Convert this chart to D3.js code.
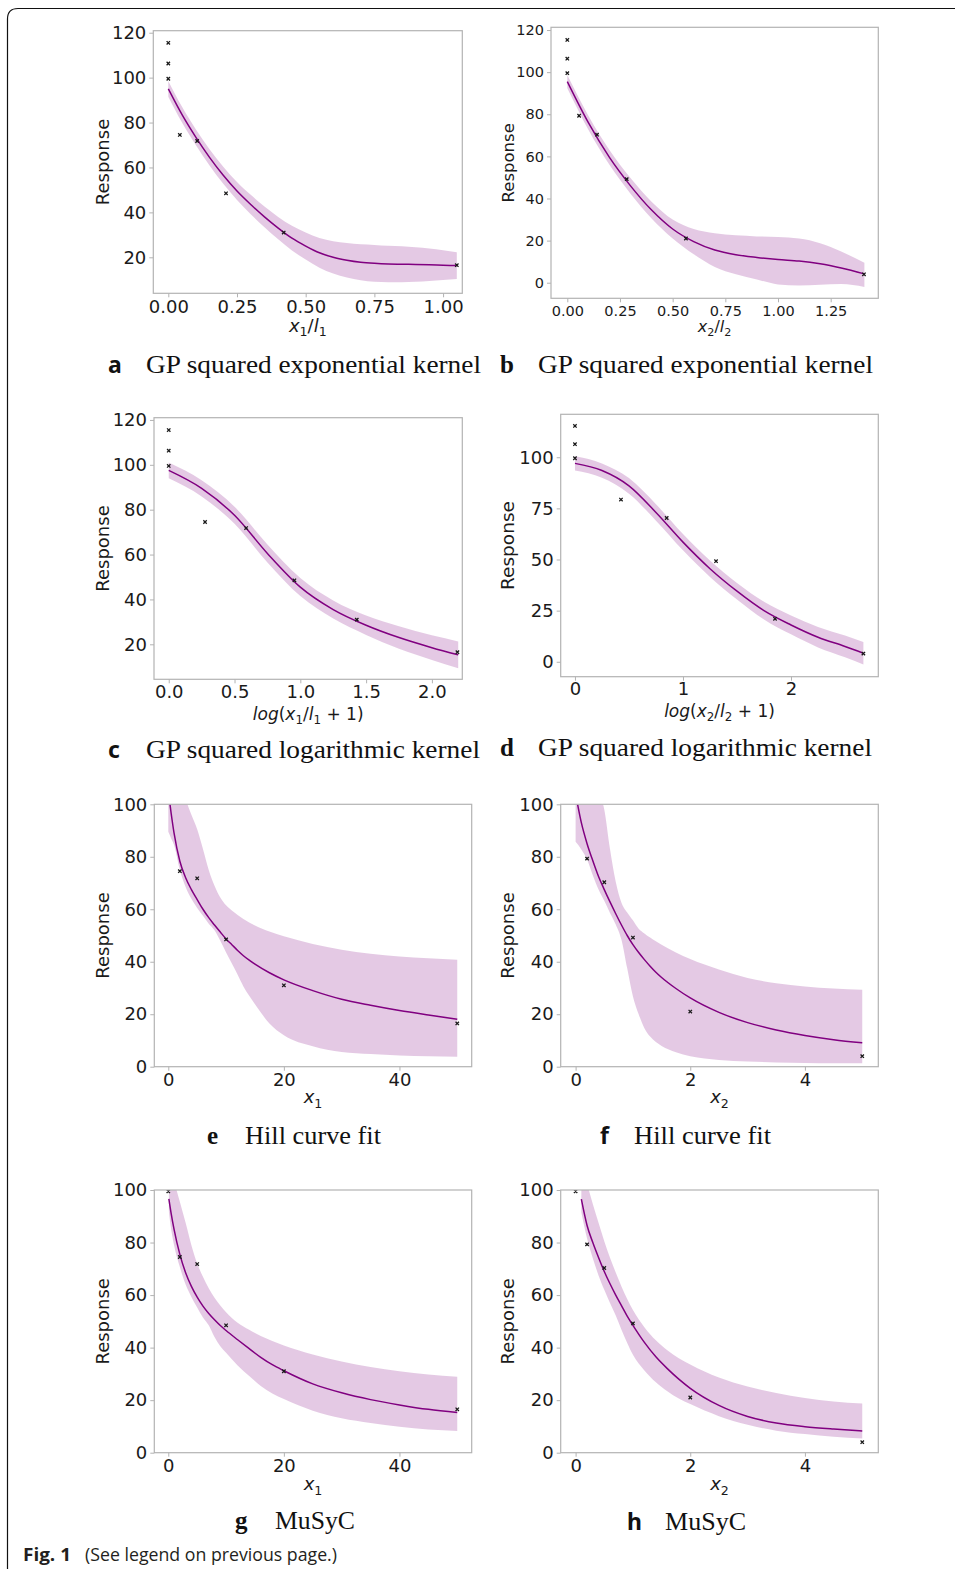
<!DOCTYPE html>
<html>
<head>
<meta charset="utf-8">
<script src="https://cdn.jsdelivr.net/npm/d3@7"></script>
<style>
  body { margin: 0; background: #fff; }
  svg { display: block; }
</style>
</head>
<body>
<svg id="fig" width="955" height="1569"></svg>
<script>
// ---------------- observations ----------------
// drug 1 doses and their transformed coordinates, with measured responses
const x1Ratio    = [0, 0, 0, 0.042, 0.105, 0.21, 0.42, 1.05];
const x1LogRatio = [0, 0, 0, 0.276, 0.588, 0.955, 1.429, 2.194];
const x1Dose     = [0, 0, 0, 2, 5, 10, 20, 50];
const y1Obs      = [115.5, 106.3, 99.5, 74.5, 71.8, 48.5, 31, 16.5];
// drug 2 doses and their transformed coordinates, with measured responses
const x2Ratio    = [0, 0, 0, 0.056, 0.141, 0.282, 0.563, 1.408];
const x2LogRatio = [0, 0, 0, 0.426, 0.849, 1.306, 1.852, 2.67];
const x2Dose     = [0, 0, 0, 0.2, 0.5, 1, 2, 5];
const y2Obs      = [115.3, 106.4, 99.5, 79.3, 70.3, 49.2, 21, 4];

// ---------------- fitted curves (mean and band) ----------------
// a: GP squared exponential kernel, drug 1
const aGridX = [0, 0.05, 0.1, 0.15, 0.2, 0.25, 0.3, 0.35, 0.4, 0.45, 0.5, 0.55, 0.6, 0.65, 0.7, 0.75, 0.8, 0.85, 0.9, 0.95, 1.0, 1.05];
const aMean  = [95, 83.5, 73.5, 64.5, 56.5, 49.5, 43.5, 38, 33, 28.5, 25, 22, 20, 18.7, 17.8, 17.3, 17, 16.9, 16.8, 16.7, 16.5, 16.3];
const aUpper = [98.5, 87, 77, 68.1, 60.3, 53.5, 47.8, 42.6, 38, 34, 31, 28.6, 27.2, 26.4, 25.8, 25.5, 25.1, 24.9, 24.5, 23.9, 23.1, 22.3];
const aLower = [91.5, 80, 70, 60.9, 52.7, 45.5, 39.2, 33.4, 28, 23, 19, 15.4, 12.8, 11, 9.8, 9.1, 8.9, 8.9, 9.1, 9.5, 9.9, 10.3];

// b: GP squared exponential kernel, drug 2
const bGridX = [0, 0.1, 0.2, 0.3, 0.4, 0.5, 0.6, 0.7, 0.8, 0.9, 1.0, 1.1, 1.2, 1.3, 1.41];
const bMean  = [95.5, 76, 59.5, 46, 34.5, 25.5, 19.5, 15.5, 13.3, 12, 11, 10.3, 9, 7, 4.2];
const bUpper = [98.6, 79.3, 63, 49.7, 38.5, 30, 25.5, 23.5, 22.5, 22, 21.7, 21, 18.8, 14.8, 9.5];
const bLower = [92.4, 72.7, 56, 42.3, 30.5, 21, 13.5, 7.5, 4, 1.5, -0.8, -1.3, -1, -0.6, -2];

// c: GP squared logarithmic kernel, drug 1
const cGridX = [0, 0.25, 0.5, 0.75, 1.0, 1.25, 1.5, 1.75, 2.0, 2.2];
const cMean  = [97.5, 89.5, 77.5, 60.5, 45.5, 35.5, 28.5, 23, 18.5, 15.3];
const cUpper = [101, 93.1, 81.3, 64.5, 49.5, 39.5, 32.8, 28, 24, 21.3];
const cLower = [94, 85.9, 73.7, 56.5, 41.5, 31.5, 24.2, 18, 13, 9.3];

// d: GP squared logarithmic kernel, drug 2
const dGridX = [0, 0.25, 0.5, 0.75, 1.0, 1.25, 1.5, 1.75, 2.0, 2.25, 2.5, 2.67];
const dMean  = [97, 93.5, 86, 73, 58.5, 45.5, 34.5, 25, 18, 12, 7.5, 4.2];
const dUpper = [100.5, 97, 89.8, 77, 62.5, 49.5, 38.5, 29.3, 22.6, 17, 12.8, 9.7];
const dLower = [93.5, 90, 82.2, 69, 54.5, 41.5, 30.5, 20.7, 13.4, 7, 2.2, -1.3];

// e: Hill curve fit, drug 1
const eGridX = [0, 0.5, 1, 2, 3, 4, 5, 6, 7, 8, 9, 10, 11, 12, 13, 14, 15, 17.5, 20, 25, 30, 35, 40, 45, 50];
const eMean  = [105, 96.5, 89, 78.3, 72, 67.5, 63.7, 60, 56.8, 54, 51.3, 48.7, 46.5, 44.3, 42.3, 40.6, 39.1, 35.8, 33.1, 29, 25.7, 23.4, 21.4, 19.7, 18.1];
const eUpper = [130, 125, 120, 110, 102, 96, 90.5, 83, 75, 69, 64.5, 61.5, 59.5, 57.8, 56.3, 55, 53.8, 51.5, 49.7, 46.8, 44.6, 43, 42, 41.3, 40.8];
const eLower = [89.5, 87, 84.5, 75, 68.5, 64, 60.5, 57.5, 54.5, 52, 48, 43.5, 39.3, 35, 30.6, 27, 23.8, 16.5, 12, 7.8, 5.6, 4.8, 4.3, 4, 3.8];

// f: Hill curve fit, drug 2
const fGridX = [0, 0.1, 0.2, 0.3, 0.4, 0.5, 0.6, 0.7, 0.8, 0.9, 1.0, 1.1, 1.2, 1.3, 1.4, 1.5, 1.75, 2, 2.5, 3, 3.5, 4, 4.5, 5];
const fMean  = [104, 93, 85, 78.5, 72.5, 67.5, 62.8, 58.3, 54, 50, 46.5, 43.5, 40.8, 38.3, 36, 34, 29.8, 26.2, 20.7, 16.8, 14, 11.9, 10.3, 9.1];
const fUpper = [130, 125, 118, 111, 105, 98, 83, 70.5, 62.5, 58.8, 55.8, 52.6, 50.8, 49.2, 47.8, 46.5, 43.5, 41, 37, 33.8, 31.8, 30.6, 29.8, 29.3];
const fLower = [85.7, 82.8, 79, 73, 67.5, 63.2, 58.6, 54.2, 48.4, 37.5, 26.8, 20, 14.7, 11.5, 9.4, 7.9, 5.5, 4, 2.6, 2, 1.6, 1.4, 1.3, 1.3];

// g: MuSyC, drug 1
const gGridX = [0.1, 0.5, 1, 2, 3, 4, 5, 6, 7, 8, 9, 10, 12, 14, 16, 18, 20, 25, 30, 35, 40, 45, 50];
const gMean  = [96.6, 91, 85, 75.5, 68.5, 63.3, 59.2, 55.8, 53, 50.6, 48.4, 46.5, 43, 39.6, 36.3, 33.5, 31.2, 26.2, 22.8, 20.2, 18.2, 16.5, 15.3];
const gUpper = [115, 110, 104, 95.5, 87.5, 79, 72, 67, 62.6, 59, 56, 53.5, 49.5, 46.8, 44.4, 42.5, 40.8, 37.4, 34.7, 32.6, 31, 29.8, 28.9];
const gLower = [91.7, 85, 79, 70.7, 64, 59.3, 55.3, 51.5, 48.5, 44, 40.5, 38, 33.2, 29.2, 25.4, 22.5, 20.4, 16, 13.1, 11.3, 9.9, 8.8, 8.3];

// h: MuSyC, drug 2
const hGridX = [0.1, 0.2, 0.3, 0.4, 0.5, 0.6, 0.7, 0.8, 0.9, 1.0, 1.2, 1.4, 1.6, 1.8, 2.0, 2.5, 3, 3.5, 4, 4.5, 5];
const hMean  = [96.5, 86.5, 80, 74.3, 69, 64.3, 60, 56, 52, 48.5, 42, 36.5, 32, 28, 24.5, 18, 13.8, 11.3, 9.9, 9, 8.3];
const hUpper = [112, 102.5, 94.7, 87.5, 80.5, 74.2, 68.6, 63.3, 58.5, 54.3, 47.8, 42.8, 39, 36, 33.6, 28.6, 25.2, 22.7, 20.8, 19.5, 18.7];
const hLower = [91.5, 81.5, 74, 67.5, 62, 57, 52.2, 46.8, 41.8, 37.3, 31.3, 26.8, 23.4, 20.6, 18.5, 13.9, 10.6, 8.4, 7.1, 6.1, 5.4];

// ---------------- tick values ----------------
const aXTicks = [0, 0.25, 0.5, 0.75, 1.0];
const aYTicks = [20, 40, 60, 80, 100, 120];
const bXTicks = [0, 0.25, 0.5, 0.75, 1.0, 1.25];
const bYTicks = [0, 20, 40, 60, 80, 100, 120];
const cXTicks = [0, 0.5, 1.0, 1.5, 2.0];
const cYTicks = [20, 40, 60, 80, 100, 120];
const dXTicks = [0, 1, 2];
const dYTicks = [0, 25, 50, 75, 100];
const hillXTicks1 = [0, 20, 40];
const hillXTicks2 = [0, 2, 4];
const hillYTicks = [0, 20, 40, 60, 80, 100];

// ---------------- text ----------------
const captionText = {
  a: "GP squared exponential kernel",
  b: "GP squared exponential kernel",
  c: "GP squared logarithmic kernel",
  d: "GP squared logarithmic kernel",
  e: "Hill curve fit",
  f: "Hill curve fit",
  g: "MuSyC",
  h: "MuSyC"
};

// math-style axis titles: it = italic, sub = subscript
const labX1Ratio = [{t: "x", it: 1}, {t: "1", sub: 1}, {t: "/"}, {t: "l", it: 1}, {t: "1", sub: 1}];
const labX2Ratio = [{t: "x", it: 1}, {t: "2", sub: 1}, {t: "/"}, {t: "l", it: 1}, {t: "2", sub: 1}];
const labX1Log = [{t: "log", it: 1}, {t: "("}, {t: "x", it: 1}, {t: "1", sub: 1}, {t: "/"}, {t: "l", it: 1}, {t: "1", sub: 1}, {t: " + 1)"}];
const labX2Log = [{t: "log", it: 1}, {t: "("}, {t: "x", it: 1}, {t: "2", sub: 1}, {t: "/"}, {t: "l", it: 1}, {t: "2", sub: 1}, {t: " + 1)"}];
const labX1 = [{t: "x", it: 1}, {t: "1", sub: 1}];
const labX2 = [{t: "x", it: 1}, {t: "2", sub: 1}];

// ---------------- panel assembly ----------------
const zip = (gx, m, u, l) => gx.map((x, i) => ({x, m: m[i], hi: u[i], lo: l[i]}));
const pts = (xs, ys, from) => xs.map((x, i) => ({x, y: ys[i]})).slice(from || 0);

const panels = [
  { id: "a", curve: zip(aGridX, aMean, aUpper, aLower), obs: pts(x1Ratio, y1Obs),
    xTicks: aXTicks, yTicks: aYTicks, xFmt: d3.format(".2f"), xLab: labX1Ratio,
    box: {l: 153.3, r: 462.3, t: 30.7, b: 293.3}, xDom: [-0.0546, 1.07], yDom: [3.97, 120.9],
    tickSize: 18, tickPad: 3, yLabSize: 18, yLabX: 108.5, xLabSize: 18, xLabDy: 38.4,
    cap: {lx: 108, tx: 146, w: 335, base: 372.7, serifLetter: false} },
  { id: "b", curve: zip(bGridX, bMean, bUpper, bLower), obs: pts(x2Ratio, y2Obs),
    xTicks: bXTicks, yTicks: bYTicks, xFmt: d3.format(".2f"), xLab: labX2Ratio,
    box: {l: 551, r: 878.3, t: 27.3, b: 298.3}, xDom: [-0.0774, 1.476], yDom: [-7.4, 121.3],
    tickSize: 14.5, tickPad: 3, yLabSize: 16.5, yLabX: 514, xLabSize: 16, xLabDy: 33.4,
    cap: {lx: 500, tx: 538, w: 335, base: 372.7, serifLetter: true} },
  { id: "c", curve: zip(cGridX, cMean, cUpper, cLower), obs: pts(x1LogRatio, y1Obs),
    xTicks: cXTicks, yTicks: cYTicks, xFmt: d3.format(".1f"), xLab: labX1Log,
    box: {l: 154, r: 462.3, t: 417.7, b: 679.3}, xDom: [-0.112, 2.231], yDom: [4.4, 121],
    tickSize: 18, tickPad: 2, yLabSize: 18, yLabX: 108.5, xLabSize: 17, xLabDy: 40.2,
    cap: {lx: 108, tx: 146, w: 334, base: 758.3, serifLetter: false} },
  { id: "d", curve: zip(dGridX, dMean, dUpper, dLower), obs: pts(x2LogRatio, y2Obs),
    xTicks: dXTicks, yTicks: dYTicks, xFmt: d3.format("d"), xLab: labX2Log,
    box: {l: 560.7, r: 878.3, t: 414.3, b: 676.7}, xDom: [-0.132, 2.808], yDom: [-7.3, 121],
    tickSize: 18, tickPad: 2, yLabSize: 18.5, yLabX: 514, xLabSize: 17, xLabDy: 40,
    cap: {lx: 500, tx: 538, w: 334, base: 755.7, serifLetter: true} },
  { id: "e", curve: zip(eGridX, eMean, eUpper, eLower), obs: pts(x1Dose, y1Obs, 3),
    xTicks: hillXTicks1, yTicks: hillYTicks, xFmt: d3.format("d"), xLab: labX1,
    box: {l: 154.3, r: 471.7, t: 804.3, b: 1066.7}, xDom: [-2.42, 52.5], yDom: [0, 100],
    tickSize: 18, tickPad: 3, yLabSize: 18, yLabX: 108.5, xLabSize: 18, xLabDy: 36.3,
    cap: {lx: 207, tx: 245, w: 136, base: 1144, serifLetter: true} },
  { id: "f", curve: zip(fGridX, fMean, fUpper, fLower), obs: pts(x2Dose, y2Obs, 3),
    xTicks: hillXTicks2, yTicks: hillYTicks, xFmt: d3.format("d"), xLab: labX2,
    box: {l: 560.7, r: 878.3, t: 804.3, b: 1066.7}, xDom: [-0.26, 5.28], yDom: [0, 100],
    tickSize: 18, tickPad: 3, yLabSize: 18, yLabX: 514, xLabSize: 18, xLabDy: 36.3,
    cap: {lx: 600, tx: 634, w: 137, base: 1144, serifLetter: false} },
  { id: "g", curve: zip(gGridX, gMean, gUpper, gLower), obs: pts(x1Dose, y1Obs),
    xTicks: hillXTicks1, yTicks: hillYTicks, xFmt: d3.format("d"), xLab: labX1,
    box: {l: 154.3, r: 471.7, t: 1190, b: 1452.7}, xDom: [-2.42, 52.5], yDom: [0, 100],
    tickSize: 18, tickPad: 3, yLabSize: 18, yLabX: 108.5, xLabSize: 18, xLabDy: 37.3,
    cap: {lx: 235, tx: 275, w: 80, base: 1529, serifLetter: true} },
  { id: "h", curve: zip(hGridX, hMean, hUpper, hLower), obs: pts(x2Dose, y2Obs),
    xTicks: hillXTicks2, yTicks: hillYTicks, xFmt: d3.format("d"), xLab: labX2,
    box: {l: 560.7, r: 878.3, t: 1190, b: 1452.7}, xDom: [-0.26, 5.28], yDom: [0, 100],
    tickSize: 18, tickPad: 3, yLabSize: 18, yLabX: 514, xLabSize: 18, xLabDy: 37.3,
    cap: {lx: 627, tx: 665, w: 81, base: 1530, serifLetter: false} }
];

// ---------------- drawing ----------------
const svg = d3.select("#fig");
const FRAME = "#b3b3b3";
const LINE = "#800080";
const SANS = "DejaVu Sans, sans-serif";

// outer rounded border of the figure box
svg.append("path")
  .attr("d", "M7.5,1569 V19 Q7.5,8.5 18,8.5 H955")
  .attr("fill", "none").attr("stroke", "#111").attr("stroke-width", 1.2);

function mathText(sel, parts, size) {
  let shift = 0;
  parts.forEach(p => {
    const target = p.sub ? size * 0.26 : 0;
    sel.append("tspan").text(p.t)
      .attr("dy", target - shift)
      .style("font-size", (p.sub ? size * 0.7 : size) + "px")
      .style("font-style", p.it ? "oblique" : "normal");
    shift = target;
  });
}

panels.forEach(p => {
  const g = svg.append("g").attr("class", "panel-" + p.id);
  const x = d3.scaleLinear().domain(p.xDom).range([p.box.l, p.box.r]);
  const y = d3.scaleLinear().domain(p.yDom).range([p.box.b, p.box.t]);

  const clipId = "clip-" + p.id;
  svg.append("clipPath").attr("id", clipId).append("rect")
    .attr("x", p.box.l).attr("y", p.box.t)
    .attr("width", p.box.r - p.box.l).attr("height", p.box.b - p.box.t);

  const plot = g.append("g").attr("clip-path", `url(#${clipId})`);

  // uncertainty band
  plot.append("path").datum(p.curve)
    .attr("d", d3.area().x(d => x(d.x)).y0(d => y(d.lo)).y1(d => y(d.hi)).curve(d3.curveMonotoneX))
    .attr("fill", LINE).attr("fill-opacity", 0.21).attr("stroke", "none");

  // fitted mean
  plot.append("path").datum(p.curve)
    .attr("d", d3.line().x(d => x(d.x)).y(d => y(d.m)).curve(d3.curveMonotoneX))
    .attr("fill", "none").attr("stroke", LINE).attr("stroke-width", 1.5);

  // observed responses
  plot.selectAll("path.obs").data(p.obs).join("path")
    .attr("class", "obs")
    .attr("transform", d => `translate(${x(d.x)},${y(d.y)})`)
    .attr("d", "M-1.7,-1.7L1.7,1.7M-1.7,1.7L1.7,-1.7")
    .attr("stroke", "#1a1a1a").attr("stroke-width", 1.3).attr("fill", "none");

  // frame
  g.append("rect")
    .attr("x", p.box.l).attr("y", p.box.t)
    .attr("width", p.box.r - p.box.l).attr("height", p.box.b - p.box.t)
    .attr("fill", "none").attr("stroke", FRAME).attr("stroke-width", 1.2);

  // axes
  const ya = g.append("g").attr("transform", `translate(${p.box.l},0)`)
    .call(d3.axisLeft(y).tickValues(p.yTicks).tickFormat(d3.format("d")).tickSize(4).tickPadding(3));
  const xa = g.append("g").attr("transform", `translate(0,${p.box.b})`)
    .call(d3.axisBottom(x).tickValues(p.xTicks).tickFormat(p.xFmt).tickSize(4).tickPadding(p.tickPad));
  [ya, xa].forEach(a => {
    a.select(".domain").remove();
    a.selectAll(".tick line").attr("stroke", FRAME).attr("stroke-width", 1);
    a.selectAll(".tick text").attr("fill", "#1a1a1a")
      .style("font-family", SANS).style("font-size", p.tickSize + "px");
  });

  // y title
  g.append("text")
    .attr("transform", `translate(${p.yLabX},${(p.box.t + p.box.b) / 2}) rotate(-90)`)
    .attr("text-anchor", "middle").attr("fill", "#1a1a1a")
    .style("font-family", SANS).style("font-size", p.yLabSize + "px")
    .text("Response");

  // x title
  const xt = g.append("text")
    .attr("x", (p.box.l + p.box.r) / 2).attr("y", p.box.b + p.xLabDy)
    .attr("text-anchor", "middle").attr("fill", "#1a1a1a")
    .style("font-family", SANS);
  mathText(xt, p.xLab, p.xLabSize);

  // sub-caption
  g.append("text")
    .attr("x", p.cap.lx).attr("y", p.cap.base).attr("fill", "#111")
    .style("font-family", p.cap.serifLetter ? "Liberation Serif, serif" : "Noto Sans, sans-serif")
    .style("font-weight", "bold")
    .style("font-size", p.cap.serifLetter ? "25px" : "23px")
    .text(p.id);
  g.append("text")
    .attr("x", p.cap.tx).attr("y", p.cap.base).attr("fill", "#111")
    .attr("textLength", p.cap.w).attr("lengthAdjust", "spacingAndGlyphs")
    .style("font-family", "Liberation Serif, serif").style("font-size", "26px")
    .text(captionText[p.id]);
});

// figure caption
svg.append("text").attr("x", 23).attr("y", 1561).attr("fill", "#231f20")
  .attr("textLength", 48).attr("lengthAdjust", "spacingAndGlyphs")
  .style("font-family", "Open Sans, sans-serif").style("font-weight", "bold").style("font-size", "18px")
  .text("Fig. 1");
svg.append("text").attr("x", 85).attr("y", 1561).attr("fill", "#231f20")
  .attr("textLength", 252).attr("lengthAdjust", "spacingAndGlyphs")
  .style("font-family", "Open Sans, sans-serif").style("font-size", "17.5px")
  .text("(See legend on previous page.)");
</script>
</body>
</html>
